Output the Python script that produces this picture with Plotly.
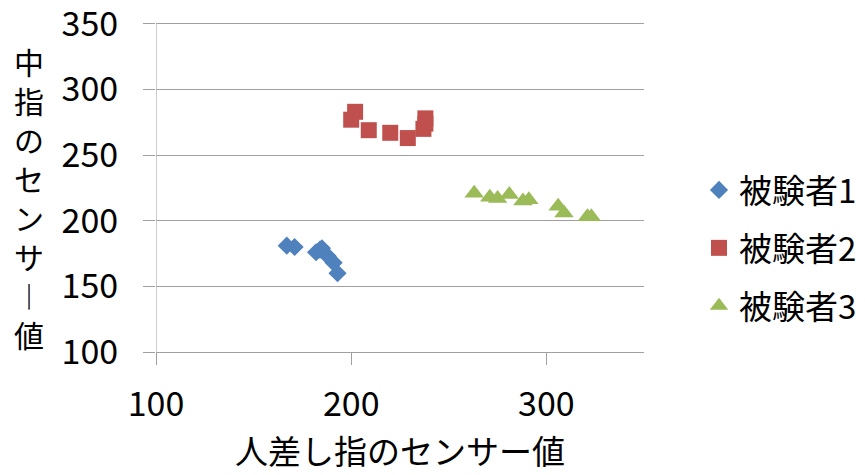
import plotly.graph_objects as go

# Sensor readings: index finger (x) vs. middle finger (y) per subject
subject1_x = [167, 171, 182, 184, 185, 188, 191, 193]
subject1_y = [181, 180, 176, 178, 179, 173, 168, 160]

subject2_x = [202, 200, 209, 220, 229, 237, 238, 238]
subject2_y = [283, 277, 269, 267, 263, 270, 278, 274]

subject3_x = [263, 271, 275, 281, 288, 291, 306, 309, 321, 323]
subject3_y = [221, 218, 217, 220, 215, 216, 211, 206, 203, 203]

series_names = ["被験者1", "被験者2", "被験者3"]
series_colors = ["#4F81BD", "#C0504D", "#9BBB59"]
series_symbols = ["diamond", "square", "triangle-up"]
series_sizes = [14, 16, 17]

x_title = "人差し指のセンサー値"
y_title_chars = ["中", "指", "の", "セ", "ン", "サ", "︱", "値"]

x_ticks = [100, 200, 300]
y_ticks = [100, 150, 200, 250, 300, 350]

FONT = "Noto Sans CJK JP"
GRID = "#A0A0A0"

# plot box: left 156, right 644, bottom 352; the y range runs a little past 350
# so that the 350 gridline is kept (plotly drops gridlines sitting on the edge)
M_L, M_R, M_T, M_B = 156, 221, 16, 123
Y_TOP = 356

fig = go.Figure()
for name, xs, ys, color, symbol, size in zip(
    series_names,
    [subject1_x, subject2_x, subject3_x],
    [subject1_y, subject2_y, subject3_y],
    series_colors, series_symbols, series_sizes,
):
    fig.add_trace(go.Scatter(
        x=xs, y=ys, mode="markers", name=name, legendgroup=name,
        marker=dict(symbol=symbol, size=size, color=color, line=dict(width=0)),
    ))

plot_w = 865 - M_L - M_R
plot_h = 475 - M_T - M_B

fig.update_layout(
    width=865, height=475,
    margin=dict(l=M_L, r=M_R, t=M_T, b=M_B, autoexpand=False),
    paper_bgcolor="white", plot_bgcolor="white",
    font=dict(family=FONT, size=32, color="#000000"),
    showlegend=True,
    legend=dict(
        x=(699 - M_L) / plot_w, y=(352 - 248) / plot_h,
        xanchor="left", yanchor="middle",
        font=dict(family=FONT, size=33, color="#000000"),
        tracegroupgap=12, itemwidth=30, bgcolor="rgba(0,0,0,0)",
    ),
    xaxis=dict(
        range=[100, 350], tickvals=x_ticks, ticktext=[str(v) for v in x_ticks],
        showgrid=False, zeroline=False,
        showline=True, linecolor=GRID, linewidth=1,
        ticks="outside", ticklen=12, tickcolor=GRID, tickwidth=1,
        tickfont=dict(family=FONT, size=34),
        ticklabelstandoff=10,
        title=dict(text=x_title, font=dict(family=FONT, size=33), standoff=12),
    ),
    yaxis=dict(
        range=[100, Y_TOP], tickvals=y_ticks, ticktext=[str(v) for v in y_ticks],
        showgrid=True, gridcolor=GRID, gridwidth=1,
        zeroline=False,
        showline=False,
        ticks="outside", ticklen=12, tickcolor=GRID, tickwidth=1,
        tickfont=dict(family=FONT, size=34),
        ticklabelstandoff=18, ticklabeloverflow="allow",
    ),
)

# y-axis line, running only from the lowest to the highest tick
fig.add_shape(
    type="line", xref="x", yref="y",
    x0=x_ticks[0], x1=x_ticks[0], y0=y_ticks[0], y1=y_ticks[-1],
    line=dict(color=GRID, width=1), layer="above",
)

# Vertical (stacked) y-axis title
fig.add_annotation(
    text="<br>".join(y_title_chars),
    xref="paper", yref="paper",
    x=(29 - M_L) / plot_w, y=(352 - 197) / plot_h,
    xanchor="center", yanchor="middle",
    showarrow=False, align="center",
    font=dict(family=FONT, size=30, color="#000000"),
)

fig.write_html("out.html")
